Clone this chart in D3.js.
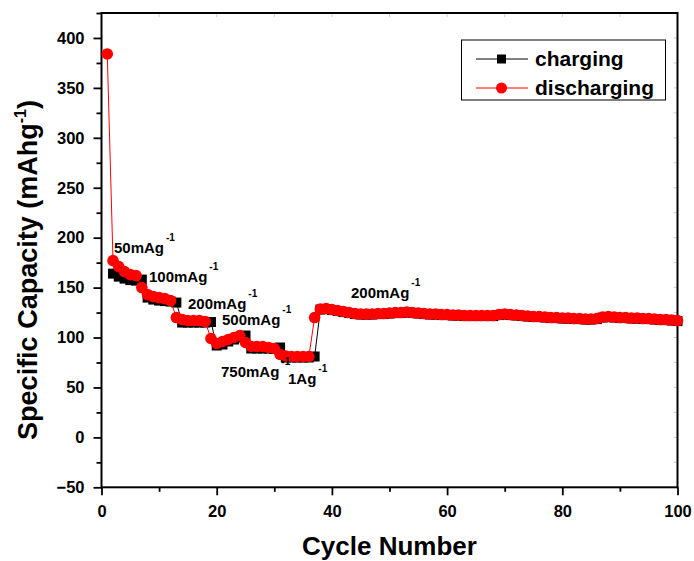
<!DOCTYPE html>
<html>
<head>
<meta charset="utf-8">
<script src="https://cdnjs.cloudflare.com/ajax/libs/d3/7.8.5/d3.min.js"></script>
<style>
    body { margin: 0; background: #fff; }
    svg { display: block; font-family: "Liberation Sans", Arial, sans-serif; font-weight: bold; }
</style>
</head>
<body>
<svg id="chart" width="694" height="561"></svg>
<script>
// Discharge capacity (mAh/g), cycles 1..100
var dischargeCap = [
    384,
    177, 171, 166, 163, 162,
    150, 143, 141, 140, 139, 137,
    120, 118, 117, 117, 117, 116,
    99, 94, 96, 98, 100, 102,
    95, 91, 91, 91, 90, 89,
    83, 81.5, 81, 81, 81, 81,
    120,
    128.5, 129, 128, 127, 126, 125, 124, 123.5, 123.5, 123.5,
    124, 124, 124.5, 125, 125, 125.5, 125, 124.5, 124, 123.5,
    123.5, 123, 123, 122.5, 122.5, 122, 122, 122, 122, 122,
    122, 123, 123.5, 123, 122.5, 122, 121.5, 121, 121, 120.5,
    120, 120, 119.5, 119.5, 119, 119, 118.5, 118.5, 119, 120.5,
    121, 120.5, 120, 120, 119.5, 119.5, 119, 119, 118.5, 118,
    118, 117.5, 117
];

// Charge capacity (mAh/g), cycles 2..100
var chargeStart = 2;
var chargeCap = [
    164, 161, 159, 157.5, 157, 158,
    140, 138, 137, 136.5, 136, 135,
    115, 115, 115, 115, 115, 115.5,
    92, 93, 96, 98, 100, 102,
    89, 89, 89, 89, 88.5, 90,
    80, 80, 80, 80, 80, 81,
    128, 128.5, 127.5, 126.5, 125.5, 124.5, 123.5, 123, 123, 123,
    123.5, 123.5, 124, 124.5, 124.5, 125, 124.5, 124, 123.5, 123,
    123, 122.5, 122.5, 122, 122, 121.5, 121.5, 121.5, 121.5, 121.5,
    121.5, 122.5, 123, 122.5, 122, 121.5, 121, 120.5, 120.5, 120,
    119.5, 119.5, 119, 119, 118.5, 118.5, 118, 118, 118.5, 120,
    120.5, 120, 119.5, 119.5, 119, 119, 118.5, 118.5, 118, 117.5,
    117.5, 117, 116.5
];

var seriesNames = ['charging', 'discharging'];
var rateLabels = ['50mAg', '100mAg', '200mAg', '500mAg', '750mAg', '1Ag', '200mAg'];
var xTicks = [0, 20, 40, 60, 80, 100];
var yTicks = [-50, 0, 50, 100, 150, 200, 250, 300, 350, 400];

(function () {
    var svg = d3.select('#chart');
    var pLeft = 101.5, pRight = 677.5, pTop = 13, pBottom = 487.3;

    var x = d3.scaleLinear().domain([0, 100]).range([pLeft, pRight]);
    var y = d3.scaleLinear().domain([-50, 425]).range([pBottom, pTop]);

    // minor ticks halfway between the majors
    var xMinor = xTicks.slice(0, -1).map(function (t) { return t + 10; });
    var yMinor = yTicks.map(function (t) { return t + 25; });

    // faint ticks on top / right edge
    var faint = svg.append('g').attr('stroke', '#d0d0d0').attr('stroke-width', 1);
    xTicks.concat(xMinor).forEach(function (t) {
        faint.append('line').attr('x1', x(t)).attr('x2', x(t)).attr('y1', pTop).attr('y2', pTop + 4);
    });
    yTicks.concat(yMinor).forEach(function (t) {
        faint.append('line').attr('x1', pRight).attr('x2', pRight - 4).attr('y1', y(t)).attr('y2', y(t));
    });

    // Bottom axis
    svg.append('g').attr('transform', 'translate(0,' + pBottom + ')')
        .call(d3.axisBottom(x).tickValues(xTicks).tickSize(8).tickPadding(10).tickSizeOuter(0));
    svg.append('g').attr('transform', 'translate(0,' + pBottom + ')')
        .call(d3.axisBottom(x).tickValues(xMinor).tickSize(4.5).tickFormat('').tickSizeOuter(0));

    // Left axis
    svg.append('g').attr('transform', 'translate(' + pLeft + ',0)')
        .call(d3.axisLeft(y).tickValues(yTicks).tickSize(8).tickPadding(9).tickSizeOuter(0));
    svg.append('g').attr('transform', 'translate(' + pLeft + ',0)')
        .call(d3.axisLeft(y).tickValues(yMinor).tickSize(5).tickFormat('').tickSizeOuter(0));

    svg.selectAll('.domain').remove();
    svg.selectAll('.tick line').attr('stroke', '#000').attr('stroke-width', 1.8);
    svg.selectAll('.tick text').attr('fill', '#000').style('font-size', '16.5px')
        .style('font-family', '"Liberation Sans", Arial, sans-serif').style('font-weight', 'bold');

    // Frame
    svg.append('rect').attr('x', pLeft).attr('y', pTop)
        .attr('width', pRight - pLeft).attr('height', pBottom - pTop)
        .attr('fill', 'none').attr('stroke', '#000').attr('stroke-width', 2);

    // Series
    var chargeData = chargeCap.map(function (v, i) { return [chargeStart + i, v]; });
    var dischargeData = dischargeCap.map(function (v, i) { return [1 + i, v]; });

    var line = d3.line().x(function (d) { return x(d[0]); }).y(function (d) { return y(d[1]); });

    svg.append('path').datum(chargeData).attr('d', line)
        .attr('fill', 'none').attr('stroke', '#000').attr('stroke-width', 1);
    svg.append('g').selectAll('rect').data(chargeData).enter().append('rect')
        .attr('x', function (d) { return x(d[0]) - 5; })
        .attr('y', function (d) { return y(d[1]) - 5; })
        .attr('width', 10).attr('height', 10).attr('fill', '#000');

    svg.append('path').datum(dischargeData).attr('d', line)
        .attr('fill', 'none').attr('stroke', '#ff0000').attr('stroke-width', 1);
    svg.append('g').selectAll('circle').data(dischargeData).enter().append('circle')
        .attr('cx', function (d) { return x(d[0]); })
        .attr('cy', function (d) { return y(d[1]); })
        .attr('r', 5.8).attr('fill', '#ff0000');

    // Rate labels
    var labelXY = [[114, 253], [149, 281.5], [188, 309], [222, 324.5], [221, 377], [288, 383.5], [351, 298]];
    rateLabels.forEach(function (lab, i) {
        var t = svg.append('text').attr('x', labelXY[i][0]).attr('y', labelXY[i][1])
            .style('font-size', '15px').attr('fill', '#000').text(lab);
        t.append('tspan').attr('dx', 2).attr('dy', -12).style('font-size', '10px').text('-1');
    });

    // Legend
    var lg = svg.append('g');
    lg.append('rect').attr('x', 461.5).attr('y', 40).attr('width', 204).attr('height', 60)
        .attr('fill', '#fff').attr('stroke', '#000').attr('stroke-width', 1);
    [0, 1].forEach(function (i) {
        var ly = 59 + i * 29;
        lg.append('line').attr('x1', 476).attr('x2', 528).attr('y1', ly).attr('y2', ly)
            .attr('stroke', i === 0 ? '#000' : '#ff0000').attr('stroke-width', 1);
        if (i === 0) {
            lg.append('rect').attr('x', 497).attr('y', ly - 4.5).attr('width', 9).attr('height', 9).attr('fill', '#000');
        } else {
            lg.append('circle').attr('cx', 501.5).attr('cy', ly).attr('r', 5.5).attr('fill', '#ff0000');
        }
        lg.append('text').attr('x', 535).attr('y', ly + 7).style('font-size', '21px')
            .attr('fill', '#000').text(seriesNames[i]);
    });

    // Axis titles
    svg.append('text').attr('x', (pLeft + pRight) / 2).attr('y', 555)
        .attr('text-anchor', 'middle').style('font-size', '26px').text('Cycle Number');

    var yt = svg.append('text').attr('transform', 'translate(37,270) rotate(-90)')
        .attr('text-anchor', 'middle').style('font-size', '27px');
    yt.append('tspan').text('Specific Capacity (mAhg');
    yt.append('tspan').attr('dy', -11).style('font-size', '16px').text('-1');
    yt.append('tspan').attr('dy', 11).text(')');
})();
</script>
</body>
</html>
